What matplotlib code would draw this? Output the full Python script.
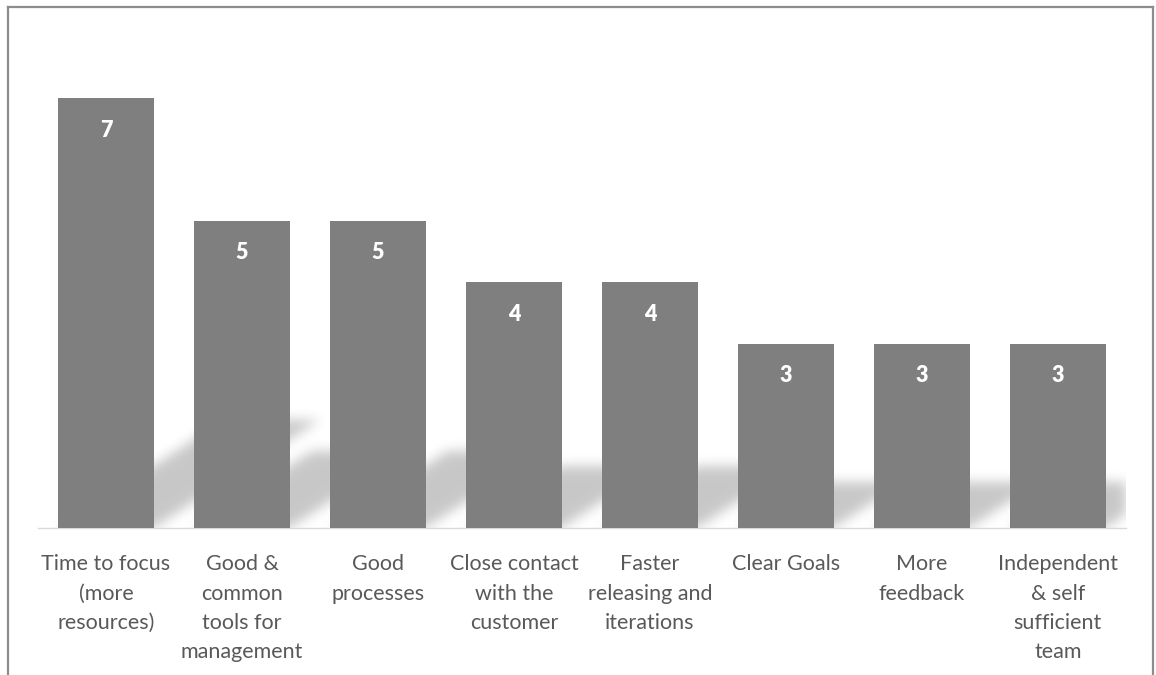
import numpy as np
import matplotlib
matplotlib.use("Agg")
import matplotlib.pyplot as plt
from matplotlib.lines import Line2D

# ---------------- data ----------------
categories = [
    "Time to focus\n(more\nresources)",
    "Good &\ncommon\ntools for\nmanagement",
    "Good\nprocesses",
    "Close contact\nwith the\ncustomer",
    "Faster\nreleasing and\niterations",
    "Clear Goals",
    "More\nfeedback",
    "Independent\n& self\nsufficient\nteam",
]
counts = [7, 5, 5, 4, 4, 3, 3, 3]

BAR_COLOR = "#7f7f7f"
TEXT_COLOR = "#595959"
FONT = ["Lato", "DejaVu Sans"]

plt.rcParams["font.family"] = FONT

W, H, DPI = 1156, 675, 100
fig = plt.figure(figsize=(W / DPI, H / DPI), dpi=DPI)
ax = fig.add_axes([0.0329, 0.2178, 0.941, 0.728])

x = np.arange(len(counts))
bar_w = 0.706
xlim = (-0.5, len(counts) - 0.5)
ylim = (0, 8)
ax.set_xlim(xlim)
ax.set_ylim(ylim)

bars = ax.bar(x, counts, width=bar_w, color=BAR_COLOR, zorder=3)

# ---------------- soft perspective shadows ----------------
# pixel size of one data unit, used to build the shadow raster
ax_w_px = 0.941 * W
ax_h_px = 0.728 * H
px_per_x = ax_w_px / (xlim[1] - xlim[0])
px_per_y = ax_h_px / (ylim[1] - ylim[0])

shadow_k = 0.25      # shadow height as fraction of bar height
slope_px = 0.65      # rise / run of the slanted shadow edges (pixels)

nx, ny = int(ax_w_px), int(ax_h_px)
gx = np.linspace(xlim[0], xlim[1], nx)
gy = np.linspace(ylim[0], ylim[1], ny)
XX, YY = np.meshgrid(gx, gy)
mask = np.zeros_like(XX)
for xi, h in zip(x, counts):
    # horizontal offset (data units) for a point at height y in the shadow
    shift = (YY * px_per_y / slope_px) / px_per_x
    inside = (YY >= 0) & (YY <= shadow_k * h) \
        & (XX >= xi - bar_w / 2 + shift) & (XX <= xi + bar_w / 2 + shift)
    mask[inside] = 1.0

def blur(a, sigma):
    r = int(3 * sigma)
    t = np.arange(-r, r + 1)
    k = np.exp(-t ** 2 / (2 * sigma ** 2))
    k /= k.sum()
    a = np.apply_along_axis(lambda m: np.convolve(m, k, mode="same"), 0, a)
    a = np.apply_along_axis(lambda m: np.convolve(m, k, mode="same"), 1, a)
    return a

mask = blur(mask, 6.0)
rgba = np.zeros((ny, nx, 4))
rgba[..., 3] = mask * 0.22
ax.imshow(rgba, extent=[xlim[0], xlim[1], ylim[0], ylim[1]], origin="lower",
          aspect="auto", interpolation="bilinear", zorder=1)

# ---------------- value labels ----------------
label_drop = 32 / px_per_y
for xi, h in zip(x, counts):
    ax.text(xi, h - label_drop, str(h), ha="center", va="center",
            color="white", fontsize=15.5, fontweight="heavy", zorder=4)

# ---------------- axes styling ----------------
ax.set_xticks(x)
ax.set_xticklabels(categories, color=TEXT_COLOR, fontsize=15.5, linespacing=1.58)
ax.tick_params(axis="x", length=0, pad=19)
ax.set_yticks([])
for side in ["top", "left", "right"]:
    ax.spines[side].set_visible(False)
ax.spines["bottom"].set_color("#d9d9d9")
ax.spines["bottom"].set_linewidth(1.0)
ax.spines["bottom"].set_zorder(2)

# chart frame (bottom edge runs off the image)
fx0, fx1, fy1 = 8 / W, 1153 / W, 1 - 7 / H
frame_kw = dict(color="#8c8c8c", linewidth=1.6, transform=fig.transFigure)
fig.add_artist(Line2D([fx0, fx0], [0, fy1], **frame_kw))
fig.add_artist(Line2D([fx0, fx1], [fy1, fy1], **frame_kw))
fig.add_artist(Line2D([fx1, fx1], [fy1, 0], **frame_kw))

fig.savefig("out.png", dpi=DPI, facecolor="white")
